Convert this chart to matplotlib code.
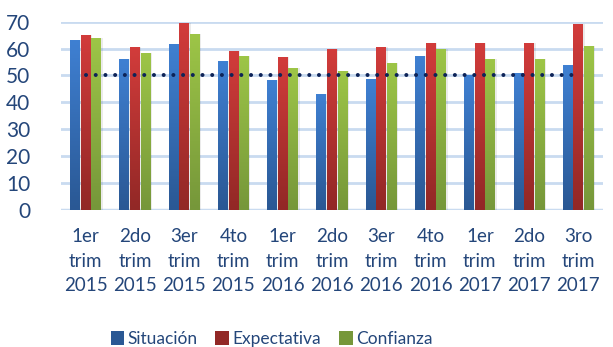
import numpy as np
import matplotlib.pyplot as plt
from matplotlib.colors import LinearSegmentedColormap

# quarterly indices, 2015-2017
categories = ['1er\ntrim\n2015', '2do\ntrim\n2015', '3er\ntrim\n2015', '4to\ntrim\n2015',
              '1er\ntrim\n2016', '2do\ntrim\n2016', '3er\ntrim\n2016', '4to\ntrim\n2016',
              '1er\ntrim\n2017', '2do\ntrim\n2017', '3ro\ntrim\n2017']
situacion = [63.2, 56.1, 61.8, 55.4, 48.3, 43.1, 48.7, 57.2, 50.2, 50.9, 53.9]
expectativa = [65.2, 60.6, 69.6, 59.1, 56.9, 59.9, 60.6, 62.1, 62.1, 62.1, 69.1]
confianza = [63.9, 58.4, 65.5, 57.2, 52.8, 51.7, 54.6, 59.9, 56.1, 56.1, 61.0]
umbral = 50

series = [('Situación', situacion, '#3F80D2', '#2A5894'),
          ('Expectativa', expectativa, '#D23C3B', '#922826'),
          ('Confianza', confianza, '#9DC547', '#76973A')]

txt = '#24467A'
plt.rcParams['font.family'] = ['Lato', 'DejaVu Sans']

fig = plt.figure(figsize=(6.13, 3.47), dpi=100)
ax = fig.add_axes([0.0995, 0.395, 0.8842, 0.5425])

x = np.arange(len(categories))
w = 0.2
gap = 0.015
for i, (name, vals, top, bot) in enumerate(series):
    off = (i - 1) * (w + gap)
    bars = ax.bar(x + off, vals, w, color=bot, label=name, zorder=3)
    cmap = LinearSegmentedColormap.from_list(name, [bot, top])
    grad = np.linspace(0, 1, 64).reshape(-1, 1)
    for b in bars:
        bx, by = b.get_x(), b.get_y()
        bw, bh = b.get_width(), b.get_height()
        # soft shadow to the right
        ax.bar(bx + bw / 2 + 0.03, bh, bw, bottom=by, color='#000000',
               alpha=0.08, zorder=2, linewidth=0)
        im = ax.imshow(grad, cmap=cmap, origin='lower', aspect='auto',
                       extent=[bx, bx + bw, by, by + bh], zorder=3.5)
        im.set_clip_path(b)

ax.plot(x, [umbral] * len(x), color='#0E2458', linewidth=2.9,
        linestyle=(0, (0.01, 2.4)), dash_capstyle='round', zorder=5)

ax.set_xlim(-0.5, len(categories) - 0.5)
ax.set_ylim(0, 70)
ax.set_yticks(range(0, 71, 10))
ax.set_xticks(x)
ax.set_xticklabels(categories, linespacing=1.55)
ax.tick_params(axis='both', length=0, labelcolor=txt)
ax.tick_params(axis='y', pad=22, labelsize=15)
ax.tick_params(axis='x', pad=13, labelsize=13.5)
ax.grid(axis='y', color='#C9DBF0', linewidth=2, zorder=0)
ax.set_axisbelow(True)
for s in ax.spines.values():
    s.set_visible(False)
ax.axhline(0, color='#C9DBF0', linewidth=2.5, zorder=1)

leg = fig.legend(loc='lower center', bbox_to_anchor=(0.443, -0.045), ncol=3,
                 frameon=False, fontsize=12.5, handlelength=0.8, handleheight=0.8,
                 handletextpad=0.2, columnspacing=1.0)
for t in leg.get_texts():
    t.set_color(txt)

fig.savefig('out.png', dpi=100)
